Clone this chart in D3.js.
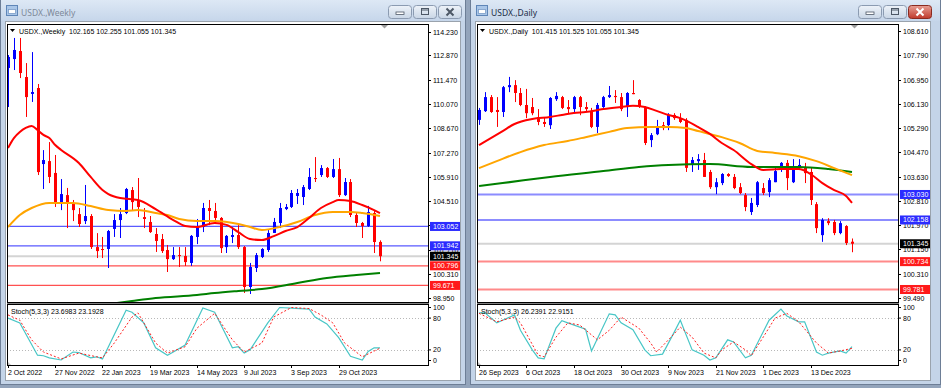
<!DOCTYPE html>
<html>
<head>
<meta charset="utf-8">
<script src="https://cdn.jsdelivr.net/npm/d3@7"></script>
<style>
body { margin: 0; background: #93a4bb; overflow: hidden; }
svg { display: block; }
</style>
</head>
<body>
<svg id="chart" width="941" height="388"></svg>
<script>
// ---------- weekly window (left) ----------
const wkTitle = "USDX.,Weekly";
const wkOhlcText = "102.165 102.255 101.055 101.345";
const wkOpen  = [112.14,112.65,113.11,111.62,110.65,110.99,106.63,106.80,106.12,104.40,104.85,104.40,103.76,103.36,103.65,101.87,101.76,101.76,102.91,103.42,103.82,105.14,104.51,103.59,103.31,102.62,102.33,101.70,101.18,101.41,101.36,100.96,102.45,103.02,104.11,103.94,103.54,101.87,102.45,102.56,101.87,99.58,100.67,101.30,101.70,102.68,103.25,104.05,104.17,104.80,104.74,105.20,105.83,106.00,106.40,105.89,106.34,104.85,105.60,103.71,103.25,103.08,103.82,102.165];
const wkHigh  = [112.88,113.86,113.86,112.42,113.05,111.22,107.43,107.89,107.15,105.77,105.26,104.57,104.11,105.43,103.76,102.67,102.45,102.85,103.76,104.11,105.26,105.31,105.83,104.11,103.65,102.96,102.62,101.99,101.87,101.87,101.87,102.56,103.48,104.40,104.57,104.40,103.59,102.56,103.02,103.13,101.93,100.96,101.53,101.81,102.85,103.54,104.40,104.34,105.14,105.20,105.43,106.40,107.03,106.57,106.46,106.92,106.98,105.83,105.77,103.82,103.31,104.23,103.94,102.255];
const wkLow   = [109.90,112.02,111.56,109.33,110.19,106.00,105.20,105.54,104.17,103.99,102.96,103.36,103.02,103.19,101.76,101.24,101.24,100.67,102.45,102.39,103.76,103.99,103.59,102.96,102.68,101.59,101.53,100.44,101.13,100.73,100.79,100.79,102.04,102.73,103.13,103.25,101.53,101.53,102.10,101.76,99.24,99.18,100.44,101.24,101.59,102.68,102.96,103.99,104.11,104.34,104.28,105.14,105.60,105.89,105.83,105.83,104.74,104.80,103.59,103.02,102.39,103.02,101.53,101.055];
const wkClose = [112.77,113.17,111.85,110.47,110.76,106.17,106.86,105.89,104.40,104.91,104.40,103.99,103.19,103.65,101.87,101.64,101.70,102.79,103.42,103.76,105.20,104.45,104.17,103.48,102.73,102.22,101.64,101.18,101.41,101.36,101.01,102.51,103.02,104.11,103.94,103.54,101.81,102.51,102.56,101.87,99.58,100.73,101.41,101.76,102.68,103.31,104.11,104.17,104.97,104.97,105.31,105.89,105.77,106.40,105.89,106.34,104.85,105.60,103.71,103.25,103.08,103.88,102.16,101.345];
const wkPriceTicks = [114.230, 112.870, 111.470, 110.070, 108.670, 107.270, 105.910, 104.510, 103.110, 101.710, 100.310, 98.950];
const wkDateIdx = [0, 8, 16, 24, 32, 40, 48, 56];
const wkDateLabels = ["2 Oct 2022", "27 Nov 2022", "22 Jan 2023", "19 Mar 2023", "14 May 2023", "9 Jul 2023", "3 Sep 2023", "29 Oct 2023"];
// moving averages, [bar index, price]
const wkMaRed = [[0,107.55],[1,108.12],[2,108.47],[3,108.70],[4,108.81],[5,108.58],[6,108.30],[7,108.12],[8,107.72],[9,107.44],[12,106.69],[14,105.89],[16,105.14],[17,104.91],[19,104.68],[22,104.57],[25,104.05],[28,103.42],[30,103.08],[32,103.02],[35,103.25],[37,103.14],[39,102.73],[41,102.33],[43,102.27],[45,102.50],[47,102.79],[49,103.02],[51,103.54],[53,104.11],[55,104.45],[56,104.57],[58,104.51],[60,104.28],[62,103.99],[63,103.82]];
const wkMaOrange = [[0,103.02],[2,103.71],[4,104.11],[7,104.40],[11,104.40],[14,104.22],[17,103.99],[20,103.94],[22,103.99],[25,103.82],[27,103.71],[29,103.48],[32,103.36],[35,103.36],[39,103.19],[41,103.02],[43,102.85],[46,103.02],[49,103.31],[52,103.71],[55,103.88],[58,103.88],[60,103.82],[63,103.65]];
const wkMaGreen = [[16,98.55],[21,98.78],[25,98.95],[32,99.12],[35,99.23],[39,99.35],[43,99.46],[49,99.81],[54,100.10],[59,100.27],[63,100.38]];
const wkBlueLevels = [103.052, 101.942];
const wkRedLevels = [100.796, 99.671];
const wkLast = 101.345;
const wkStochText = "Stoch(5,3,3) 23.6983 23.1928";
const wkStochK = [[0,80],[2,71],[5,10],[6,9],[7,5],[9,1],[11,16],[12,15],[14,5],[15,7],[16,3],[20,95],[21,91],[23,71],[25,24],[27,10],[28,16],[30,29],[33,99],[35,91],[38,24],[39,26],[40,14],[41,20],[44,71],[46,100],[48,99],[51,97],[52,82],[54,69],[56,43],[58,8],[60,1],[61,17],[62,24],[63,23.7]];
const wkStochD = [[0,86],[2,76],[4,39],[6,16],[9,3],[12,14],[15,7],[16,5],[18,33],[21,82],[22,90],[25,33],[27,14],[30,26],[32,61],[35,89],[38,39],[40,16],[43,33],[45,82],[48,100],[51,98],[53,86],[55,71],[57,33],[60,7],[63,23.2]];

// ---------- daily window (right) ----------
const dyTitle = "USDX.,Daily";
const dyOhlcText = "101.415 101.525 101.055 101.345";
const dyOpen  = [105.58,105.88,106.36,105.92,105.85,106.70,106.77,106.50,106.09,106.02,105.68,105.51,105.40,106.29,106.36,106.02,105.95,106.36,106.02,105.88,105.34,106.02,106.36,106.40,106.36,106.02,106.50,106.26,106.02,104.89,105.09,105.40,105.40,105.75,105.64,105.58,104.04,104.17,104.21,103.80,103.28,103.42,103.73,103.63,103.28,103.01,102.43,102.67,103.25,103.11,103.45,103.87,104.11,103.45,103.94,103.97,103.80,102.70,101.64,102.12,102.09,101.71,101.95,101.415];
const dyHigh  = [105.99,106.53,106.43,106.36,106.74,107.05,106.94,106.67,106.64,106.33,105.95,105.68,106.36,106.53,106.40,106.26,106.40,106.40,106.19,105.99,106.16,106.40,106.74,106.60,106.50,106.53,106.94,106.29,106.05,105.13,105.58,105.51,105.81,105.81,105.81,105.64,104.31,104.41,104.45,103.87,103.59,103.76,103.76,103.73,103.42,103.08,102.91,103.49,103.42,103.59,103.94,104.14,104.21,104.24,104.24,104.11,103.94,102.77,102.22,102.22,102.16,102.12,101.98,101.525];
const dyLow   = [105.41,105.85,105.82,105.34,105.68,106.53,106.19,106.05,105.64,105.74,105.40,105.34,105.27,106.23,105.95,105.81,105.85,105.74,105.88,105.30,105.13,105.99,106.33,106.16,105.88,105.68,106.46,105.99,104.72,104.65,105.06,105.23,105.23,105.58,105.47,103.80,103.80,103.87,103.63,103.22,103.04,103.35,103.63,103.21,103.04,102.46,102.33,102.60,103.01,102.94,103.45,103.80,103.18,103.42,103.87,103.42,102.67,101.71,101.41,101.98,101.64,101.67,101.30,101.055];
const dyClose = [105.92,106.36,105.85,105.85,106.70,106.77,106.50,106.09,105.81,105.81,105.51,105.44,106.33,106.40,105.99,105.95,106.36,106.02,105.95,105.34,106.09,106.36,106.43,106.36,105.95,106.50,106.46,106.02,104.79,105.06,105.34,105.30,105.75,105.64,105.51,103.94,104.21,104.24,103.63,103.28,103.45,103.73,103.66,103.25,103.08,102.60,102.74,103.45,103.08,103.52,103.83,104.11,103.59,103.97,104.04,103.76,102.84,101.88,102.16,102.05,101.71,102.05,101.37,101.345];
const dyPriceTicks = [108.610, 107.790, 106.950, 106.130, 105.290, 104.470, 103.630, 102.810, 101.970, 101.150, 100.310, 99.490];
const dyDateIdx = [0, 8, 16, 24, 32, 40, 48, 56];
const dyDateLabels = ["26 Sep 2023", "6 Oct 2023", "18 Oct 2023", "30 Oct 2023", "9 Nov 2023", "21 Nov 2023", "1 Dec 2023", "13 Dec 2023"];
const dyMaRed = [[0,104.72],[2,104.96],[4,105.20],[6,105.44],[9,105.61],[12,105.68],[14,105.75],[16,105.82],[18,105.85],[21,105.95],[24,106.02],[26,106.06],[28,106.02],[30,105.89],[32,105.75],[34,105.64],[37,105.34],[39,105.10],[41,104.79],[43,104.55],[46,104.07],[48,103.87],[51,103.90],[54,103.90],[56,103.73],[58,103.42],[60,103.18],[62,102.98],[63,102.74]];
const dyMaOrange = [[0,103.93],[3,104.17],[7,104.48],[11,104.72],[15,104.86],[18,104.99],[22,105.17],[25,105.30],[29,105.34],[32,105.34],[35,105.30],[37,105.20],[41,104.99],[44,104.79],[47,104.52],[50,104.45],[54,104.34],[57,104.17],[60,103.93],[63,103.69]];
const dyMaGreen = [[0,103.32],[4,103.42],[12,103.63],[21,103.83],[27,103.97],[32,104.04],[39,104.07],[46,103.97],[54,103.97],[59,103.90],[63,103.80]];
const dyBlueLevels = [103.030, 102.158];
const dyRedLevels = [100.734, 99.781];
const dyLast = 101.345;
const dyStochText = "Stoch(5,3,3) 26.2391 22.9151";
const dyStochK = [[0,90],[1,90],[3,71],[4,76],[6,86],[7,57],[9,20],[10,5],[11,3],[13,61],[14,75],[15,71],[18,59],[19,18],[22,88],[23,86],[24,71],[26,58],[28,20],[29,9],[31,12],[33,54],[34,76],[36,20],[38,10],[39,1],[40,5],[42,39],[43,35],[45,5],[46,10],[49,76],[51,97],[52,84],[54,73],[55,73],[57,16],[58,10],[59,14],[61,18],[62,14],[63,26.2]];
const dyStochD = [[0,89],[3,73],[6,82],[7,71],[10,10],[11,7],[13,44],[15,71],[17,67],[20,39],[22,57],[24,82],[27,61],[29,33],[30,16],[32,39],[34,63],[36,44],[38,14],[40,5],[41,20],[43,35],[45,20],[46,9],[48,44],[50,80],[52,89],[54,73],[57,33],[59,14],[61,18],[63,22.9]];

const stochTicks = [100, 80, 20, 0];
const stochLevels = [80, 20];

const FONT = "'Liberation Sans', Arial, sans-serif";
const svg = d3.select("#chart");
const defs = svg.append("defs");

function grad(id, c1, c2) {
  const lg = defs.append("linearGradient").attr("id", id).attr("x1", 0).attr("y1", 0).attr("x2", 0).attr("y2", 1);
  lg.append("stop").attr("offset", "0%").attr("stop-color", c1);
  lg.append("stop").attr("offset", "100%").attr("stop-color", c2);
}
grad("tb", "#dde8f5", "#c6d6ea");
grad("btn", "#eef3f9", "#c9d6e6");
grad("btnRed", "#e8a095", "#c0392b");

function drawWindow(cfg) {
  const L = cfg.x;
  const g = svg.append("g");

  // frame + title bar
  g.append("rect").attr("x", L + 0.5).attr("y", -0.5).attr("width", cfg.w - 1).attr("height", 385)
    .attr("fill", "#c4d4e8").attr("stroke", "#6d7e96");
  g.append("rect").attr("x", L + 1).attr("y", 0).attr("width", cfg.w - 2).attr("height", 21).attr("fill", "url(#tb)");

  // window icon
  g.append("rect").attr("x", L + 6.5).attr("y", 5.5).attr("width", 11).attr("height", 10)
    .attr("fill", "#a9c6e8").attr("stroke", "#5f86b8");
  g.append("rect").attr("x", L + 8.5).attr("y", 9.5).attr("width", 7).attr("height", 4)
    .attr("fill", "#fff").attr("stroke", "#7a9cc8").attr("stroke-width", 0.8);

  g.append("text").attr("x", L + 21).attr("y", 16).text(cfg.title)
    .attr("font-family", "'Noto Sans', sans-serif").attr("font-size", 8.5)
    .attr("fill", cfg.active ? "#1d2e47" : "#7e8a9a");

  // caption buttons
  const bx = [L + 388, L + 413, L + 438];
  bx.forEach((x, i) => {
    const red = cfg.active && i === 2;
    g.append("rect").attr("x", x + 0.5).attr("y", 5.5).attr("width", 23).attr("height", 13).attr("rx", 3)
      .attr("fill", red ? "url(#btnRed)" : "url(#btn)").attr("stroke", red ? "#8a2a20" : "#8b9bb1");
    const gc = red ? "#fff" : "#4d5866";
    if (i === 0) {
      g.append("rect").attr("x", x + 8).attr("y", 12).attr("width", 8).attr("height", 2.5).attr("fill", "#fff").attr("stroke", gc).attr("stroke-width", 0.8);
    } else if (i === 1) {
      g.append("rect").attr("x", x + 8.5).attr("y", 8.5).attr("width", 7).attr("height", 6).attr("fill", "none").attr("stroke", gc).attr("stroke-width", 1);
      g.append("line").attr("x1", x + 8.5).attr("x2", x + 15.5).attr("y1", 10).attr("y2", 10).attr("stroke", gc);
    } else {
      g.append("path").attr("d", `M${x + 8.5},8.5 L${x + 15.5},15.5 M${x + 15.5},8.5 L${x + 8.5},15.5`)
        .attr("stroke", gc).attr("stroke-width", 2);
    }
  });

  // client area
  g.append("rect").attr("x", L + 5.5).attr("y", 21.5).attr("width", 455).attr("height", 359)
    .attr("fill", "#fff").attr("stroke", "#9aa3ad");

  const plotL = L + 7, plotR = L + 428;
  const mainT = 24, mainB = 302, stT = 304, stB = 365;

  const xs = d3.scaleLinear().domain([0, 63]).range([L + cfg.x0, L + cfg.x63]);
  const ys = d3.scaleLinear().domain(cfg.yDomain).range([298, cfg.yTopPx]);
  const ss = d3.scaleLinear().domain([0, 100]).range([360.5, 307.5]);

  defs.append("clipPath").attr("id", "cm" + L).append("rect")
    .attr("x", plotL + 1).attr("y", mainT + 1).attr("width", plotR - plotL - 1).attr("height", mainB - mainT - 1);
  defs.append("clipPath").attr("id", "cs" + L).append("rect")
    .attr("x", plotL + 1).attr("y", stT + 1).attr("width", plotR - plotL - 1).attr("height", stB - stT - 1);

  const gm = g.append("g").attr("clip-path", `url(#cm${L})`);
  const gs = g.append("g").attr("clip-path", `url(#cs${L})`);

  // horizontal level lines
  const hl = (v, col, w) => gm.append("line").attr("x1", plotL).attr("x2", plotR)
    .attr("y1", ys(v)).attr("y2", ys(v)).attr("stroke", col).attr("stroke-width", w);
  hl(cfg.last, "#d4d4d4", 2);
  cfg.blue.forEach(v => hl(v, cfg.blueCol, cfg.lvW));
  cfg.red.forEach(v => hl(v, cfg.redCol, cfg.lvW));

  // candles
  d3.range(cfg.open.length).forEach(i => {
    const o = cfg.open[i], c = cfg.close[i];
    const col = c > o ? "#0000ff" : "#ff0000";
    const x = Math.round(xs(i));
    gm.append("line").attr("x1", x + 0.5).attr("x2", x + 0.5)
      .attr("y1", ys(cfg.high[i])).attr("y2", ys(cfg.low[i])).attr("stroke", col).attr("stroke-width", 1);
    const yt = Math.min(ys(o), ys(c)), hb = Math.max(1, Math.abs(ys(o) - ys(c)));
    gm.append("rect").attr("x", x - 1).attr("y", yt).attr("width", 3).attr("height", hb).attr("fill", col);
  });

  // moving averages
  const ma = d3.line().x(d => xs(d[0])).y(d => ys(d[1])).curve(d3.curveMonotoneX);
  [[cfg.maGreen, "#008000"], [cfg.maOrange, "#ffa500"], [cfg.maRed, "#ff0000"]].forEach(([data, col]) => {
    gm.append("path").datum(data).attr("d", ma).attr("fill", "none").attr("stroke", col).attr("stroke-width", 2);
  });

  // plot frames
  g.append("rect").attr("x", plotL + 0.5).attr("y", mainT + 0.5).attr("width", plotR - plotL).attr("height", mainB - mainT)
    .attr("fill", "none").attr("stroke", "#000");
  g.append("rect").attr("x", plotL + 0.5).attr("y", stT + 0.5).attr("width", plotR - plotL).attr("height", stB - stT)
    .attr("fill", "none").attr("stroke", "#000");
  g.append("line").attr("x1", plotL).attr("x2", plotR + 1).attr("y1", mainB + 1.5).attr("y2", mainB + 1.5).attr("stroke", "#808080");

  // chart shift marker
  g.append("path").attr("d", `M${L + 381},${mainT + 1} h7 l-3.5,3.5 z`).attr("fill", "#a0a0a0");

  // header
  g.append("path").attr("d", `M${L + 10},${mainT + 5} h5 l-2.5,3 z`).attr("fill", "#000");
  g.append("text").attr("x", L + 19).attr("y", mainT + 10).text(cfg.title + "  " + cfg.ohlc)
    .attr("font-family", FONT).attr("font-size", 7).attr("fill", "#000").attr("xml:space", "preserve");

  // price axis ticks
  cfg.ticks.forEach(v => {
    const y = Math.round(ys(v)) + 0.5;
    g.append("line").attr("x1", plotR).attr("x2", plotR + 3).attr("y1", y).attr("y2", y).attr("stroke", "#000");
    g.append("text").attr("x", plotR + 5).attr("y", y + 2.5).text(v.toFixed(3))
      .attr("font-family", FONT).attr("font-size", 7).attr("fill", "#000");
  });

  // price labels for levels
  const tag = (v, fill) => {
    const y = ys(v);
    g.append("rect").attr("x", plotR + 2).attr("y", y - 4.5).attr("width", 30).attr("height", 9).attr("fill", fill);
    g.append("text").attr("x", plotR + 5).attr("y", y + 2.5).text(v.toFixed(3))
      .attr("font-family", FONT).attr("font-size", 7).attr("fill", "#fff");
  };
  cfg.blue.forEach(v => tag(v, cfg.blueTag));
  tag(cfg.last, "#000");
  cfg.red.forEach(v => tag(v, "#ff1a1a"));

  // stochastic panel
  stochLevels.forEach(v => {
    gs.append("line").attr("x1", plotL).attr("x2", plotR).attr("y1", Math.round(ss(v)) + 0.5).attr("y2", Math.round(ss(v)) + 0.5)
      .attr("stroke", "#b8b8b8").attr("stroke-dasharray", "1,2");
  });
  const sl = d3.line().x(d => xs(d[0])).y(d => ss(d[1]));
  gs.append("path").datum(cfg.stK).attr("d", sl).attr("fill", "none").attr("stroke", "#48c6c6").attr("stroke-width", 1.2);
  gs.append("path").datum(cfg.stD).attr("d", sl).attr("fill", "none").attr("stroke", "#ff2020").attr("stroke-width", 1)
    .attr("stroke-dasharray", "2,2");
  g.append("text").attr("x", L + 11).attr("y", stT + 10).text(cfg.stText)
    .attr("font-family", FONT).attr("font-size", 7).attr("fill", "#000");
  g.append("path").attr("d", `M${plotL + 1},${stB} v-3 l3,3 z`).attr("fill", "#c0c0c0");

  stochTicks.forEach(v => {
    const y = ss(v);
    g.append("line").attr("x1", plotR).attr("x2", plotR + 3).attr("y1", y).attr("y2", y).attr("stroke", "#000");
    g.append("text").attr("x", plotR + 5).attr("y", y + 2.5).text(v)
      .attr("font-family", FONT).attr("font-size", 7).attr("fill", "#000");
  });

  // date axis
  cfg.dateIdx.forEach((idx, k) => {
    const x = Math.round(xs(idx)) + 0.5;
    g.append("line").attr("x1", x).attr("x2", x).attr("y1", stB).attr("y2", stB + 3).attr("stroke", "#000");
    g.append("text").attr("x", x - 0.5).attr("y", stB + 10).text(cfg.dateLabels[k])
      .attr("font-family", FONT).attr("font-size", 7).attr("fill", "#000");
  });
}

drawWindow({
  x: 0, w: 466, active: false, title: wkTitle, ohlc: wkOhlcText,
  x0: 8, x63: 380, yDomain: [98.95, 114.23], yTopPx: 31.5,
  open: wkOpen, high: wkHigh, low: wkLow, close: wkClose,
  maRed: wkMaRed, maOrange: wkMaOrange, maGreen: wkMaGreen,
  blue: wkBlueLevels, red: wkRedLevels, last: wkLast,
  blueCol: "#5a5aff", redCol: "#ff5050", lvW: 1.3, blueTag: "#2b2bff",
  ticks: wkPriceTicks, dateIdx: wkDateIdx, dateLabels: wkDateLabels,
  stText: wkStochText, stK: wkStochK, stD: wkStochD
});

drawWindow({
  x: 470, w: 471, active: true, title: dyTitle, ohlc: dyOhlcText,
  x0: 9, x63: 382, yDomain: [99.49, 108.61], yTopPx: 31.3,
  open: dyOpen, high: dyHigh, low: dyLow, close: dyClose,
  maRed: dyMaRed, maOrange: dyMaOrange, maGreen: dyMaGreen,
  blue: dyBlueLevels, red: dyRedLevels, last: dyLast,
  blueCol: "#8c8cff", redCol: "#ff8a8a", lvW: 2, blueTag: "#2b2bff",
  ticks: dyPriceTicks, dateIdx: dyDateIdx, dateLabels: dyDateLabels,
  stText: dyStochText, stK: dyStochK, stD: dyStochD
});
</script>
</body>
</html>
